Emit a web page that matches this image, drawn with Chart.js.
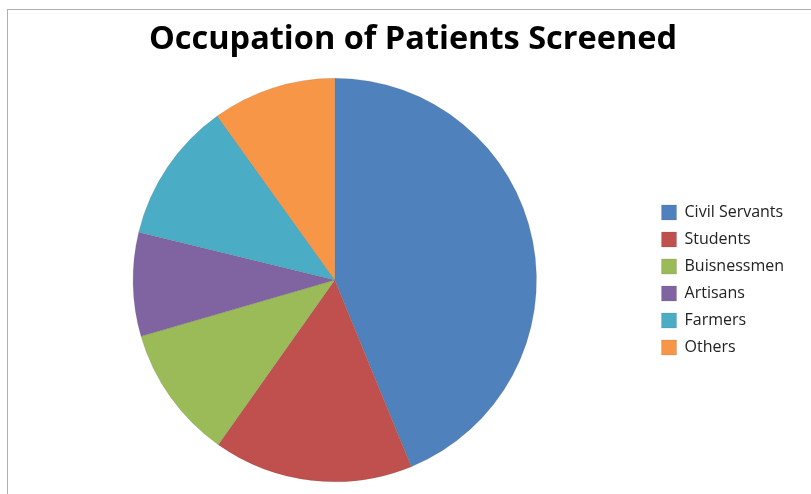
<!DOCTYPE html>
<html>
<head>
<meta charset="utf-8">
<script src="https://cdn.jsdelivr.net/npm/chart.js@4/dist/chart.umd.min.js"></script>
<style>
    body { margin: 0; background: #fff; }
    #wrap { position: relative; width: 811px; height: 494px; overflow: hidden; }
    #frame { position: absolute; left: 7px; top: 9px; width: 900px; height: 600px;
             border-top: 1px solid #b0b0b0; border-left: 1px solid #b0b0b0; }
    canvas { position: absolute; left: 0; top: 0; }
</style>
</head>
<body>
<div id="wrap">
    <div id="frame"></div>
    <canvas id="myChart" width="811" height="494"></canvas>
</div>
<script>
const occupations = ['Civil Servants', 'Students', 'Buisnessmen', 'Artisans', 'Farmers', 'Others'];
const shares = [43.8, 16.0, 10.7, 8.3, 11.3, 9.9];
const sliceColors = ['#4F81BD', '#C0504D', '#9BBB59', '#8064A2', '#4BACC6', '#F79646'];

// the legend box in the original is a bit wider than its text needs
const widenLegend = {
    id: 'widenLegend',
    beforeLayout(chart) {
        const lg = chart.legend;
        if (lg && !lg._widened) {
            const fit = lg.fit.bind(lg);
            lg.fit = function() { fit(); this.width += 13; };
            lg._widened = true;
        }
    }
};

const ctx = document.getElementById('myChart').getContext('2d');
new Chart(ctx, {
    type: 'pie',
    data: {
        labels: occupations,
        datasets: [{
            data: shares,
            backgroundColor: sliceColors,
            borderColor: 'rgba(90, 90, 90, 0.35)',
            borderWidth: 0.5
        }]
    },
    options: {
        responsive: false,
        animation: false,
        layout: { padding: { left: 19, right: 4, top: 0, bottom: 12 } },
        plugins: {
            title: {
                display: true,
                text: 'Occupation of Patients Screened',
                color: '#000',
                font: { family: 'Open Sans', size: 32.5, weight: 'bold' },
                padding: { top: 20, bottom: 19 }
            },
            legend: {
                position: 'right',
                fullSize: false,
                labels: {
                    boxWidth: 15,
                    boxHeight: 15,
                    padding: 11,
                    color: '#222',
                    font: { family: 'Open Sans', size: 16 }
                }
            },
            tooltip: { enabled: false }
        }
    },
    plugins: [widenLegend]
});
</script>
</body>
</html>
